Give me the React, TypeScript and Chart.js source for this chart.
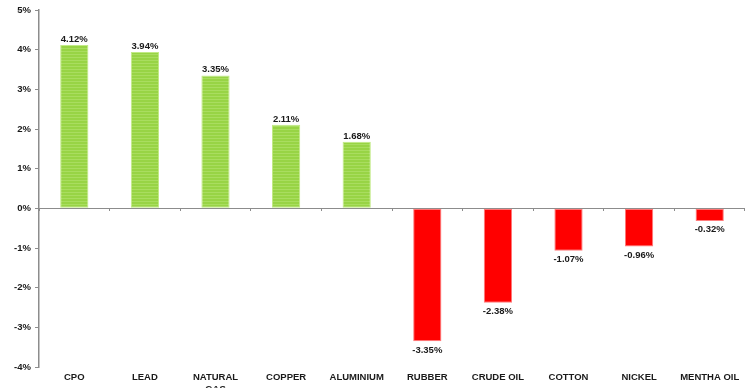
import React, { useEffect, useRef } from "react";
import { Chart, registerables } from "chart.js";

Chart.register(...registerables);

const categories: (string | string[])[] = [
  "CPO",
  "LEAD",
  ["NATURAL", "GAS"],
  "COPPER",
  "ALUMINIUM",
  "RUBBER",
  "CRUDE OIL",
  "COTTON",
  "NICKEL",
  "MENTHA OIL",
];
const changes: number[] = [4.12, 3.94, 3.35, 2.11, 1.68, -3.35, -2.38, -1.07, -0.96, -0.32];
const yMin = -4;
const yMax = 5;
const yStep = 1;

const FONT = "Arial, 'Liberation Sans', sans-serif";
const AXIS_GREY = "#8c8c8c";

function makeGreenPattern(): CanvasPattern | string {
  const c = document.createElement("canvas");
  c.width = 4;
  c.height = 3;
  const g = c.getContext("2d");
  if (!g) return "#9bd64b";
  g.fillStyle = "#98d445";
  g.fillRect(0, 0, 4, 3);
  g.fillStyle = "#a9dd5f";
  g.fillRect(0, 0, 4, 1);
  const p = g.createPattern(c, "repeat");
  return p || "#9bd64b";
}

const valueLabels = {
  id: "valueLabels",
  afterDatasetsDraw(chart: any) {
    const ctx = chart.ctx;
    const meta = chart.getDatasetMeta(0);
    const data = chart.data.datasets[0].data as number[];
    ctx.save();
    ctx.font = `bold 9.5px ${FONT}`;
    ctx.fillStyle = "#1a1a1a";
    ctx.textAlign = "center";
    meta.data.forEach((el: any, i: number) => {
      const v = data[i];
      const txt = v.toFixed(2) + "%";
      if (v >= 0) {
        ctx.textBaseline = "bottom";
        ctx.fillText(txt, el.x, el.y - 1);
      } else {
        ctx.textBaseline = "top";
        ctx.fillText(txt, el.x, el.y + 4);
      }
    });
    ctx.restore();
  },
};

export default function App() {
  const ref = useRef<HTMLCanvasElement | null>(null);

  useEffect(() => {
    if (!ref.current) return;
    const green = makeGreenPattern();
    const chart = new Chart(ref.current, {
      type: "bar",
      data: {
        labels: categories as any,
        datasets: [
          {
            data: changes,
            backgroundColor: (c: any) => ((c.raw ?? 0) >= 0 ? green : "#ff0000"),
            borderColor: (c: any) => ((c.raw ?? 0) >= 0 ? "#c2ea86" : "#ff7a7a"),
            borderWidth: 1,
            borderSkipped: false,
            barPercentage: 0.4,
            categoryPercentage: 1,
          },
        ],
      },
      options: {
        responsive: false,
        animation: false,
        layout: { padding: { top: 10, right: 7, left: 0, bottom: 0 } },
        plugins: {
          legend: { display: false },
          tooltip: { enabled: false },
        },
        scales: {
          x: {
            type: "category",
            position: "bottom",
            grid: { display: false, drawTicks: false },
            border: { display: false },
            ticks: {
              color: "#1a1a1a",
              font: { family: FONT, size: 9.5, weight: "bold" },
              padding: 5,
              maxRotation: 0,
              autoSkip: false,
            },
            afterFit: (s: any) => {
              s.height = 21;
            },
          },
          xZero: {
            type: "category",
            position: { y: 0 } as any,
            offset: true,
            grid: {
              offset: true,
              drawOnChartArea: false,
              drawTicks: true,
              tickLength: 3,
              color: AXIS_GREY,
            },
            border: { display: false },
            ticks: { display: false },
          },
          y: {
            min: yMin,
            max: yMax,
            ticks: {
              stepSize: yStep,
              color: "#1a1a1a",
              font: { family: FONT, size: 9.5, weight: "bold" },
              padding: 4,
              callback: (v: any) => `${v}%`,
            },
            grid: {
              color: (c: any) => (c.tick && c.tick.value === 0 ? AXIS_GREY : "rgba(0,0,0,0)"),
              tickColor: AXIS_GREY,
              tickLength: 4,
              lineWidth: 1,
            },
            border: { display: true, color: AXIS_GREY, width: 1.5 },
            afterFit: (s: any) => {
              s.width = 39;
            },
          },
        },
      },
      plugins: [valueLabels],
    });
    return () => chart.destroy();
  }, []);

  return (
    <div
      style={{
        position: "fixed",
        left: 0,
        top: 0,
        width: 752,
        height: 388,
        overflow: "hidden",
        background: "#ffffff",
      }}
    >
      <canvas ref={ref} width={752} height={388} style={{ display: "block" }} />
    </div>
  );
}
